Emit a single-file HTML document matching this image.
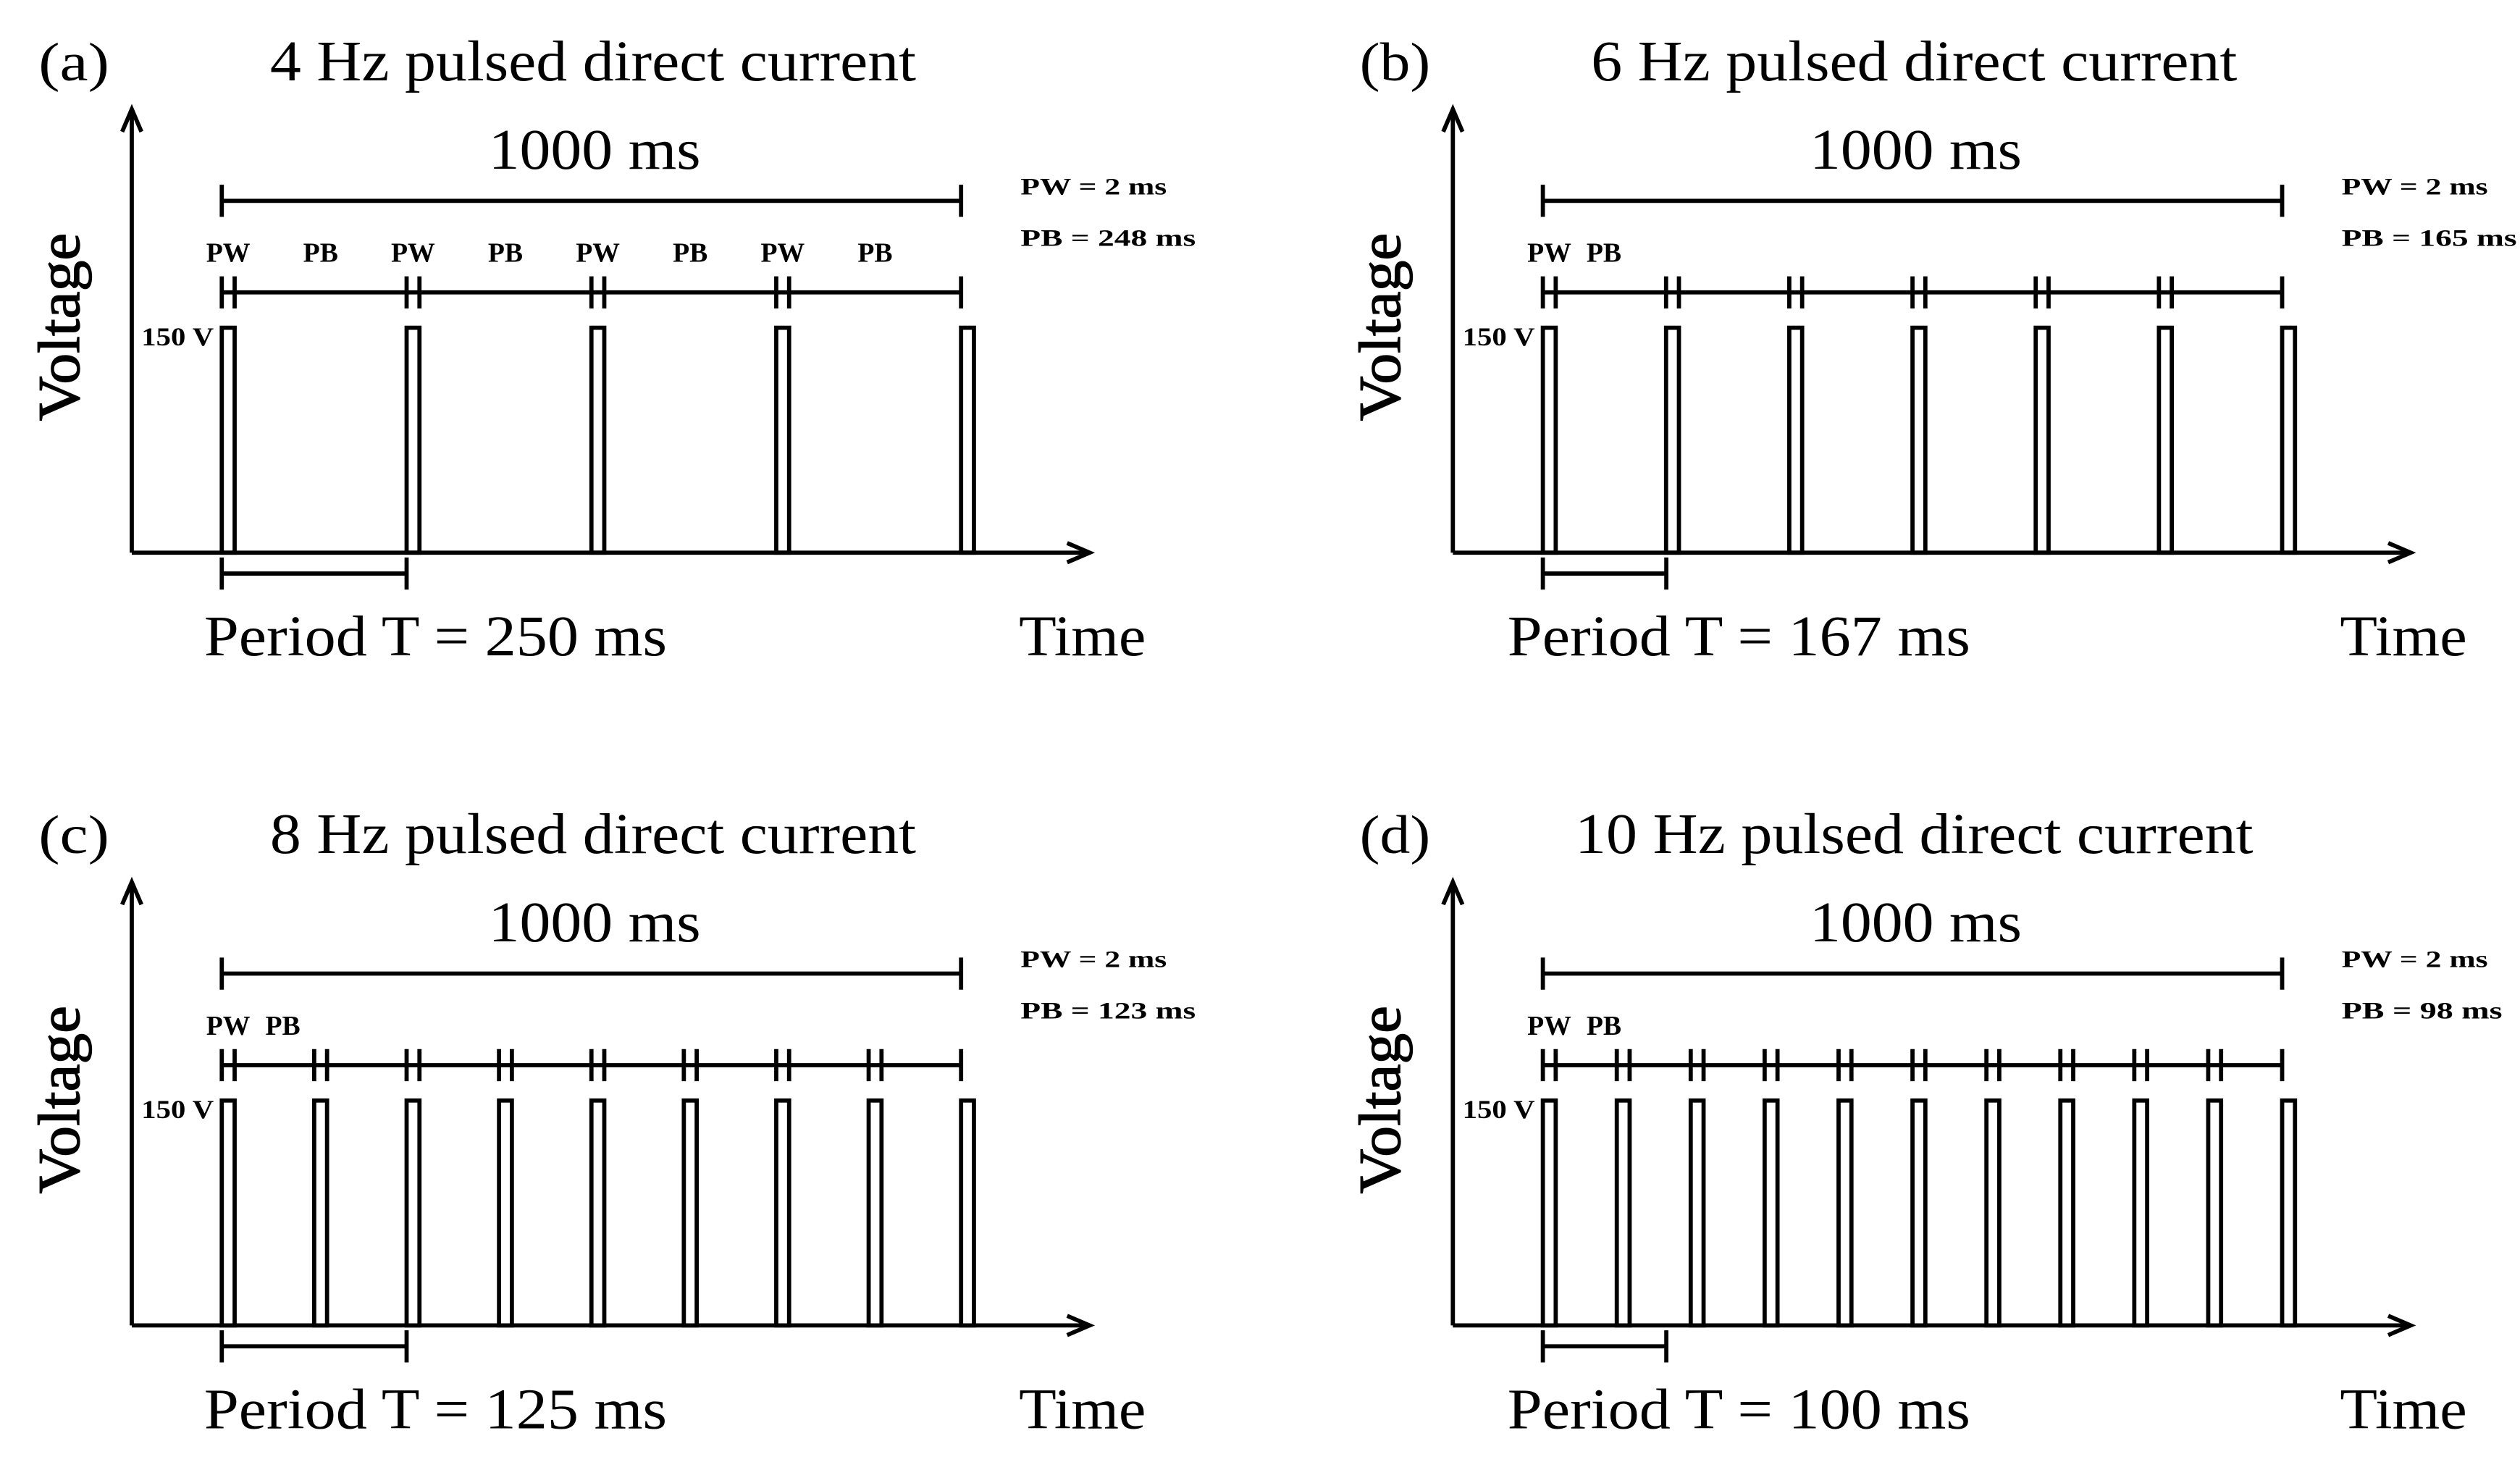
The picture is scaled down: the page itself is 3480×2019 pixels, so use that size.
<!DOCTYPE html>
<html><head><meta charset="utf-8"><style>
html,body{margin:0;padding:0;background:#fff;}
svg{display:block;}
text{font-family:"Liberation Serif",serif;fill:#000;}
</style></head>
<body>
<svg id="fig" width="3480" height="2019" viewBox="0 0 1568 910" preserveAspectRatio="none" xmlns="http://www.w3.org/2000/svg"></svg>
<script>
const panelLetters = ["(a)", "(b)", "(c)", "(d)"];
const frequencies = [4, 6, 8, 10];
const periodLabels = [250, 167, 125, 100];
const pbValues = [248, 165, 123, 98];
const pwValue = 2;
const periodBarMs = [250, 167, 250, 167];
const totalMs = 1000;

const svg = document.getElementById('fig');
const NS = 'http://www.w3.org/2000/svg';
function el(tag, attrs, parent) {
  const e = document.createElementNS(NS, tag);
  for (const k in attrs) e.setAttribute(k, attrs[k]);
  (parent || svg).appendChild(e);
  return e;
}
function txt(parent, x, y, s, size, extra, len) {
  const t = el('text', Object.assign({x: x, y: y, 'font-size': size}, extra || {}), parent);
  if (len) { t.setAttribute('textLength', len); t.setAttribute('lengthAdjust', 'spacingAndGlyphs'); }
  t.textContent = s;
  return t;
}
const offsets = [[0,0],[822,0],[0,481],[822,481]];
const periodLabelX = [127, 116, 127, 116];
const SW = 2.6;
for (let p = 0; p < 4; p++) {
  const [ox, oy] = offsets[p];
  const g = el('g', {transform: `translate(${ox},${oy})`});
  
  
  const xs = ms => 138 + ms * 0.46;
  const line = (x1,y1,x2,y2) => el('line',{x1,y1,x2,y2,stroke:'#000','stroke-width':SW},g);
  const lt = txt(g, 24, 50, panelLetters[p], 34, {}, 44);
  
  
  const tlen = frequencies[p] >= 10 ? 422 : 402;
  const tt = txt(g, 369 - tlen / 2, 50, frequencies[p] + ' Hz pulsed direct current', 36, {}, tlen);
  
  
  // axes
  line(82, 344, 82, 70);
  el('polyline',{points:'76,82 82,68 88,82',fill:'none',stroke:'#000','stroke-width':SW},g);
  line(82, 344, 676, 344);
  el('polyline',{points:'664,338 678,344 664,350',fill:'none',stroke:'#000','stroke-width':SW},g);
  const yl = txt(g, -58, 0, 'Voltage', 37, {transform:'translate(49,204) rotate(-90)', stroke:'#000','stroke-width':0.6}, 117);
  
  
  const xl = txt(g, 634, 408, 'Time', 36, {}, 79);
  
  
  // 1000 ms bar
  txt(g, 304, 105, totalMs + ' ms', 36, {}, 132);
  line(xs(0), 125, xs(totalMs), 125);
  line(xs(0), 115, xs(0), 135); line(xs(totalMs), 115, xs(totalMs), 135);
  // PW/PB legend
  txt(g, 635, 121, 'PW = ' + pwValue + ' ms', 15, {'font-weight':'bold'}, 91);
  txt(g, 635, 153, 'PB  = ' + pbValues[p] + ' ms', 15, {'font-weight':'bold'}, pbValues[p] >= 100 ? 109 : 100);
  // second bar
  line(xs(0), 182, xs(totalMs), 182);
  const period = totalMs / frequencies[p];
  for (let k = 0; k <= frequencies[p]; k++) {
    const x = xs(k * period);
    line(x, 172, x, 192);
    if (k < frequencies[p]) line(x + 8, 172, x + 8, 192);
    const r = el('rect',{x:x, y:204, width:8, height:140, fill:'none', stroke:'#000','stroke-width':SW},g);
    
    
  }
  // PW/PB labels
  const nLab = p === 0 ? 4 : 1;
  for (let k = 0; k < nLab; k++) {
    const x = xs(k * period);
    txt(g, x + 4, 163, 'PW', 17, {'font-weight':'bold','text-anchor':'middle'});
    const pbx = p === 0 ? (x + 8 + xs((k+1)*period)) / 2 : x + 38;
    txt(g, pbx, 163, 'PB', 17, {'font-weight':'bold','text-anchor':'middle'});
  }
  txt(g, 88, 215, '150 V', 16, {'font-weight':'bold'}, 45);
  // period bar
  const pe = xs(periodBarMs[p]);
  line(xs(0), 357, pe, 357);
  line(xs(0), 347, xs(0), 367); line(pe, 347, pe, 367);
  const pl = txt(g, periodLabelX[p], 408, 'Period T = ' + periodLabels[p] + ' ms', 36, {}, 288);
  
  
}
</script>
</body></html>
